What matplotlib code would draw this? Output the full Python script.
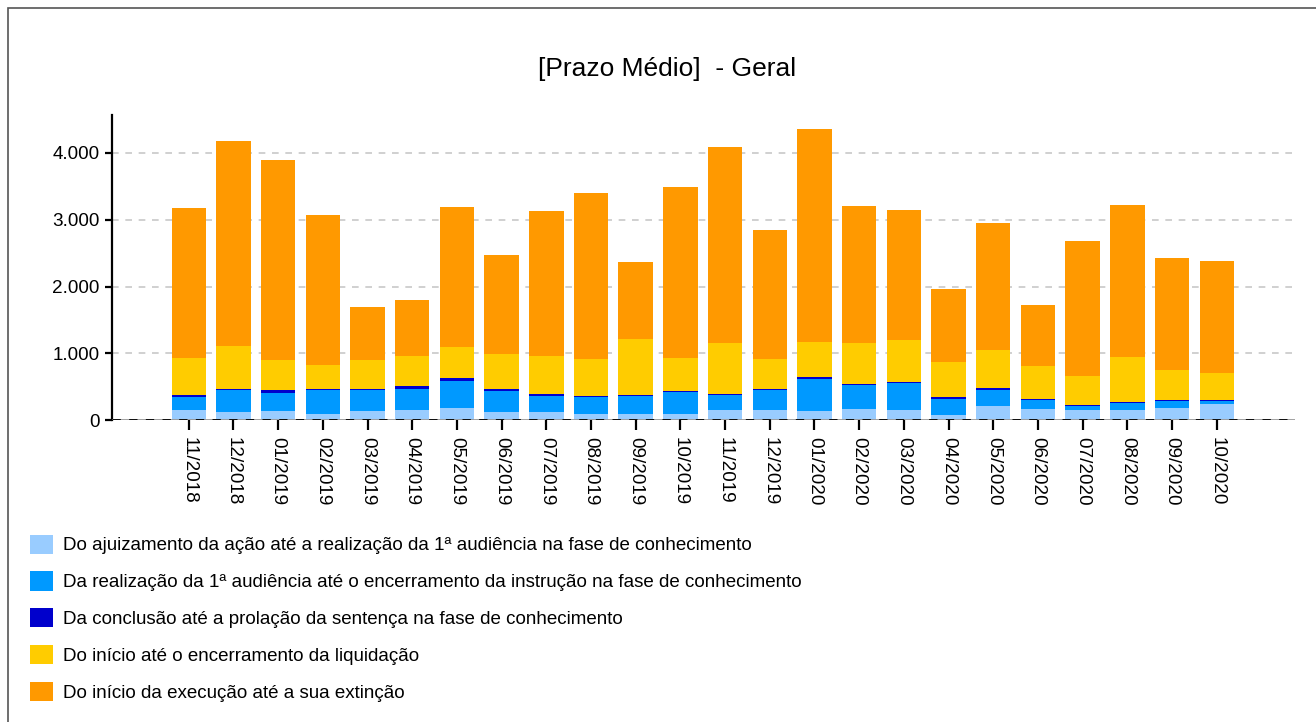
import numpy as np
import matplotlib.pyplot as plt
from matplotlib.patches import Rectangle
from matplotlib.ticker import FuncFormatter

plt.rcParams['font.family'] = ['Liberation Sans', 'DejaVu Sans']

#
# Data
#
months = ["11/2018", "12/2018", "01/2019", "02/2019", "03/2019", "04/2019",
          "05/2019", "06/2019", "07/2019", "08/2019", "09/2019", "10/2019",
          "11/2019", "12/2019", "01/2020", "02/2020", "03/2020", "04/2020",
          "05/2020", "06/2020", "07/2020", "08/2020", "09/2020", "10/2020"]

ajuizamento = [155, 130, 140, 95, 140, 155, 185, 125, 125, 95, 95, 95,
               155, 155, 140, 170, 155, 80, 215, 170, 155, 155, 185, 245]
instrucao = [195, 325, 270, 360, 315, 315, 405, 315, 240, 255, 270, 330,
             225, 300, 480, 360, 405, 240, 240, 135, 60, 105, 105, 45]
sentenca = [30, 15, 45, 15, 15, 45, 45, 30, 30, 5, 15, 15,
            5, 5, 30, 5, 15, 30, 30, 5, 15, 15, 15, 5]
liquidacao = [555, 645, 450, 360, 435, 450, 465, 520, 570, 555, 840, 495,
              765, 450, 525, 615, 630, 525, 570, 495, 435, 675, 450, 405]
totais = [3180, 4180, 3895, 3070, 1695, 1800, 3190, 2470, 3130, 3400, 2365, 3490,
          4090, 2845, 4360, 3205, 3145, 1965, 2950, 1725, 2680, 3220, 2425, 2380]

series_labels = [
    "Do ajuizamento da ação até a realização da 1ª audiência na fase de conhecimento",
    "Da realização da 1ª audiência até o encerramento da instrução na fase de conhecimento",
    "Da conclusão até a prolação da sentença na fase de conhecimento",
    "Do início até o encerramento da liquidação",
    "Do início da execução até a sua extinção",
]
colors = ["#99CCFF", "#0099FF", "#0000CC", "#FFCC00", "#FF9900"]

# last segment is whatever is left up to the bar total
execucao = (np.array(totais) - np.array(ajuizamento) - np.array(instrucao)
            - np.array(sentenca) - np.array(liquidacao))
segments = [ajuizamento, instrucao, sentenca, liquidacao, execucao]

#
# Plot
#
fig = plt.figure(figsize=(13.16, 7.22), dpi=100)
ax = fig.add_axes([0.085, 0.418, 0.899, 0.423])

x = np.arange(len(months))
bottom = np.zeros(len(months))
handles = []
for seg, c in zip(segments, colors):
    b = ax.bar(x, seg, bottom=bottom, width=0.77, color=c, zorder=3)
    handles.append(b)
    bottom += np.array(seg)

ax.set_xlim(-1.72, 24.75)
ax.set_ylim(0, 4570)
ax.set_yticks([0, 1000, 2000, 3000, 4000])
ax.yaxis.set_major_formatter(FuncFormatter(lambda v, p: f"{int(v):,}".replace(",", ".")))
ax.set_xticks(x)
ax.set_xticklabels(months, rotation=-90, ha="center", va="top")

for y in [1000, 2000, 3000, 4000]:
    ax.axhline(y, color="#c8c8c8", lw=1.2, ls=(0, (4, 4)), zorder=1)
ax.axhline(0, color="#999999", lw=2, zorder=4)
ax.axhline(0, color="black", lw=2, ls=(0, (3, 3)), zorder=5)

for s in ["top", "right", "bottom"]:
    ax.spines[s].set_visible(False)
ax.spines["left"].set_linewidth(1.6)
ax.tick_params(axis="y", labelsize=13.6, length=5, width=1.6, pad=4)
ax.tick_params(axis="x", labelsize=13.6, length=7, width=1.6, pad=5)

fig.text(0.507, 0.904, "[Prazo Médio]  - Geral", ha="center", va="center", fontsize=19)

fig.legend(handles, series_labels, loc="upper left", bbox_to_anchor=(0.0172, 0.27),
           frameon=False, fontsize=13.5, handlelength=1.2, handleheight=1.2,
           labelspacing=0.9, handletextpad=0.55, borderaxespad=0)

fig.patches.append(Rectangle((0.006, -0.05), 1.2, 1.039, transform=fig.transFigure,
                             fill=False, edgecolor="#555555", lw=1.2))

plt.savefig("out.png", dpi=100)
